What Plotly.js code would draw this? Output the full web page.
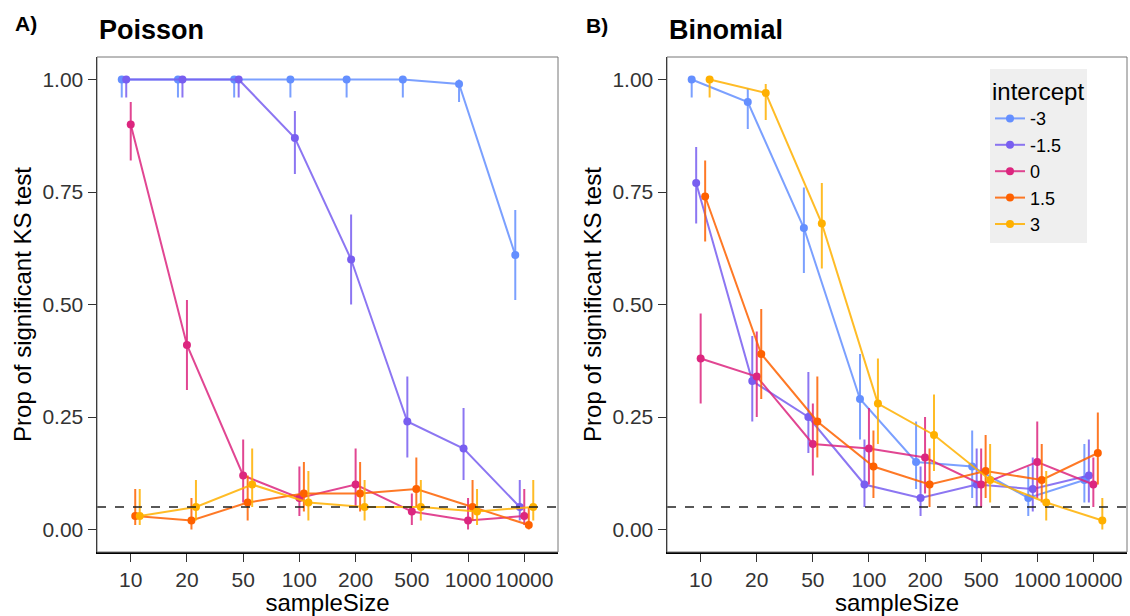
<!DOCTYPE html>
<html>
<head>
<meta charset="utf-8">
<script src="https://cdn.plot.ly/plotly-3.0.1.min.js"></script>
<style>html,body{margin:0;padding:0;background:#fff;}#chart{width:1130px;height:616px;}</style>
</head>
<body>
<div id="chart"></div>
<script>
// ---- Data ----
const sampleSizes = ['10','20','50','100','200','500','1000','10000'];
const intercepts = ['-3','-1.5','0','1.5','3'];
const colors = ['#648FFF','#785EF0','#DC267F','#FE6100','#FFB000'];
const yTicks = [0, 0.25, 0.5, 0.75, 1];

// Poisson
const pois_m3    = [1.00,1.00,1.00,1.00,1.00,1.00,0.99,0.61];
const pois_m3_lo = [0.96,0.96,0.96,0.96,0.96,0.96,0.95,0.51];
const pois_m3_hi = [1.00,1.00,1.00,1.00,1.00,1.00,1.00,0.71];
const pois_m15    = [1.00,1.00,1.00,0.87,0.60,0.24,0.18,0.05];
const pois_m15_lo = [0.96,0.96,0.96,0.79,0.50,0.16,0.11,0.02];
const pois_m15_hi = [1.00,1.00,1.00,0.93,0.70,0.34,0.27,0.11];
const pois_0    = [0.90,0.41,0.12,0.07,0.10,0.04,0.02,0.03];
const pois_0_lo = [0.82,0.31,0.06,0.03,0.05,0.01,0.00,0.01];
const pois_0_hi = [0.95,0.51,0.20,0.14,0.18,0.08,0.07,0.09];
const pois_15    = [0.03,0.02,0.06,0.08,0.08,0.09,0.05,0.01];
const pois_15_lo = [0.01,0.00,0.02,0.04,0.04,0.05,0.02,0.00];
const pois_15_hi = [0.09,0.07,0.12,0.15,0.15,0.16,0.11,0.05];
const pois_3    = [0.03,0.05,0.10,0.06,0.05,0.05,0.04,0.05];
const pois_3_lo = [0.01,0.02,0.05,0.02,0.02,0.02,0.01,0.02];
const pois_3_hi = [0.09,0.11,0.18,0.13,0.11,0.11,0.09,0.11];

// Binomial
const bin_m3    = [1.00,0.95,0.67,0.29,0.15,0.14,0.07,0.11];
const bin_m3_lo = [0.96,0.89,0.57,0.20,0.09,0.07,0.03,0.06];
const bin_m3_hi = [1.00,0.98,0.76,0.39,0.24,0.22,0.14,0.19];
const bin_m15    = [0.77,0.33,0.25,0.10,0.07,0.10,0.09,0.12];
const bin_m15_lo = [0.68,0.24,0.17,0.05,0.03,0.05,0.04,0.06];
const bin_m15_hi = [0.85,0.43,0.35,0.20,0.14,0.18,0.16,0.20];
const bin_0    = [0.38,0.34,0.19,0.18,0.16,0.10,0.15,0.10];
const bin_0_lo = [0.28,0.25,0.12,0.10,0.08,0.05,0.07,0.05];
const bin_0_hi = [0.48,0.44,0.28,0.27,0.25,0.18,0.24,0.16];
const bin_15    = [0.74,0.39,0.24,0.14,0.10,0.13,0.11,0.17];
const bin_15_lo = [0.64,0.29,0.16,0.07,0.05,0.07,0.06,0.10];
const bin_15_hi = [0.82,0.49,0.34,0.22,0.18,0.21,0.19,0.26];
const bin_3    = [1.00,0.97,0.68,0.28,0.21,0.11,0.06,0.02];
const bin_3_lo = [0.96,0.91,0.58,0.19,0.13,0.06,0.02,0.00];
const bin_3_hi = [1.00,0.99,0.77,0.38,0.30,0.19,0.13,0.07];

const refLine = 0.05;

const poisson = [[pois_m3,pois_m3_lo,pois_m3_hi],[pois_m15,pois_m15_lo,pois_m15_hi],[pois_0,pois_0_lo,pois_0_hi],[pois_15,pois_15_lo,pois_15_hi],[pois_3,pois_3_lo,pois_3_hi]];
const binomial = [[bin_m3,bin_m3_lo,bin_m3_hi],[bin_m15,bin_m15_lo,bin_m15_hi],[bin_0,bin_0_lo,bin_0_hi],[bin_15,bin_15_lo,bin_15_hi],[bin_3,bin_3_lo,bin_3_hi]];

// ---- Build ----
const FONT = 'Liberation Sans, Arial, Helvetica, sans-serif';
const dodge = 0.08;
function rgba(hex, a){
  const n = parseInt(hex.slice(1),16);
  return `rgba(${(n>>16)&255},${(n>>8)&255},${n&255},${a})`;
}
const traces = [];
function addPanel(sets, xa, ya, showLeg){
  sets.forEach((s,k)=>{
    const [v,lo,hi] = s;
    const xs = sampleSizes.map((_,i)=> i + (k-2)*dodge);
    traces.push({
      type:'scatter', mode:'lines+markers',
      x: xs, y: v, xaxis: xa, yaxis: ya,
      name: intercepts[k], legendgroup: 'g'+k, showlegend: showLeg,
      line:{color: rgba(colors[k],0.85), width:2},
      marker:{color: colors[k], size:8},
      error_y:{type:'data', symmetric:false,
        array: v.map((d,i)=> hi[i]-d), arrayminus: v.map((d,i)=> d-lo[i]),
        width:0, thickness:2, color: rgba(colors[k],0.85)},
      hoverinfo:'x+y'
    });
  });
}
addPanel(poisson,'x','y',false);
addPanel(binomial,'x2','y2',true);

const tickFont = {family: FONT, size: 21, color:'#333'};
const titleFont = {family: FONT, size: 24, color:'#000'};
function xAxis(domain, anchor){
  return {domain, anchor, range:[-0.6,7.6], tickvals: sampleSizes.map((_,i)=>i), ticktext: sampleSizes,
    showgrid:false, zeroline:false, showline:true, linecolor:'#000', linewidth:1.5,
    ticks:'outside', ticklen:8, tickcolor:'#333', tickwidth:1, tickfont: tickFont,
    title:{text:'sampleSize', font: titleFont, standoff:2}};
}
function yAxis(anchor){
  return {anchor, range:[-0.05,1.05], tickvals: yTicks, tickformat:'.2f',
    showgrid:false, zeroline:false, showline:true, linecolor:'#000', linewidth:1.5,
    ticks:'outside', ticklen:8, tickcolor:'#333', tickwidth:1, tickfont: tickFont,
    title:{text:'Prop of significant KS test', font: titleFont, standoff:4}};
}

const L = 97, R = 1127, T = 57, B = 552;
const W = R-L, H = B-T;
const px = v => (v-L)/W;
const py = v => (B-v)/H;

const layout = {
  width:1130, height:616,
  margin:{l:L, r:1130-R, t:T, b:616-B, pad:0},
  paper_bgcolor:'#fff', plot_bgcolor:'#fff',
  font:{family: FONT, color:'#000'},
  xaxis: xAxis([0, px(558)], 'y'),
  yaxis: yAxis('x'),
  xaxis2: xAxis([px(667), 1], 'y2'),
  yaxis2: yAxis('x2'),
  showlegend:true,
  legend:{x: px(990), y: py(69), xanchor:'left', yanchor:'top', bgcolor:'#EFEFEF',
    font:{family:FONT, size:18, color:'#000'},
    title:{text:'intercept', font:{family:FONT, size:24, color:'#000'}},
    tracegroupgap:0, itemwidth:30, borderwidth:0},
  shapes:[
    {type:'line', xref:'x domain', yref:'y', x0:0, x1:1, y0:refLine, y1:refLine, line:{color:'#222', width:1.5, dash:'dash'}},
    {type:'line', xref:'x2 domain', yref:'y2', x0:0, x1:1, y0:refLine, y1:refLine, line:{color:'#222', width:1.5, dash:'dash'}},
    {type:'rect', xref:'x domain', yref:'y domain', x0:0, x1:1, y0:0, y1:1, line:{color:'#777', width:1}},
    {type:'rect', xref:'x2 domain', yref:'y2 domain', x0:0, x1:1, y0:0, y1:1, line:{color:'#777', width:1}}
  ],
  annotations:[
    {text:'<b>A)</b>', xref:'paper', yref:'paper', x:px(13), y:py(23), xanchor:'left', yanchor:'middle', showarrow:false, font:{family:FONT, size:21, color:'#000'}},
    {text:'<b>Poisson</b>', xref:'paper', yref:'paper', x:px(97), y:py(30), xanchor:'left', yanchor:'middle', showarrow:false, font:{family:FONT, size:27, color:'#000'}},
    {text:'<b>B)</b>', xref:'paper', yref:'paper', x:px(584), y:py(25), xanchor:'left', yanchor:'middle', showarrow:false, font:{family:FONT, size:21, color:'#000'}},
    {text:'<b>Binomial</b>', xref:'paper', yref:'paper', x:px(667), y:py(30), xanchor:'left', yanchor:'middle', showarrow:false, font:{family:FONT, size:27, color:'#000'}}
  ]
};

Plotly.newPlot('chart', traces, layout, {displayModeBar:false, staticPlot:true});
</script>
</body>
</html>
